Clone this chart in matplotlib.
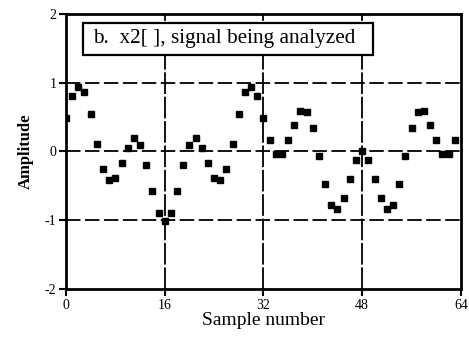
import numpy as np
import matplotlib.pyplot as plt
from matplotlib.patches import Rectangle

plt.rcParams['font.family'] = ['Liberation Serif', 'DejaVu Serif']
plt.rcParams['axes.unicode_minus'] = False

# Muestras
muestras = np.arange(64)
amplitud = [0.49, 0.80, 0.93, 0.86, 0.54, 0.11, -0.25, -0.41,
            -0.38, -0.17, 0.05, 0.19, 0.10, -0.19, -0.58, -0.90,
            -1.01, -0.90, -0.58, -0.19, 0.10, 0.19, 0.05, -0.17,
            -0.38, -0.41, -0.25, 0.11, 0.54, 0.86, 0.93, 0.80,
            0.49, 0.16, -0.04, -0.04, 0.16, 0.39, 0.59, 0.57,
            0.34, -0.06, -0.48, -0.78, -0.83, -0.67, -0.40, -0.13,
            0.00, -0.13, -0.40, -0.67, -0.83, -0.78, -0.48, -0.06,
            0.34, 0.57, 0.59, 0.39, 0.16, -0.04, -0.04, 0.16]

xticks = [0, 16, 32, 48, 64]
yticks = [-2, -1, 0, 1, 2]

fig = plt.figure(figsize=(4.69, 3.47), dpi=100)
ax = fig.add_axes([0.1407, 0.167, 0.842, 0.793])

# Rejilla
for xv in [16, 32, 48]:
    ax.axvline(xv, color='black', lw=1.3, dashes=(12, 1.5), zorder=1)
for yv in [-1, 0, 1]:
    ax.axhline(yv, color='black', lw=1.3, dashes=(8, 2.5), zorder=1)

ax.plot(muestras, amplitud, 's', color='black', markersize=4.6, zorder=3)

ax.set_xlim(0, 64)
ax.set_ylim(-2, 2)
ax.set_xticks(xticks)
ax.set_yticks(yticks)
ax.tick_params(direction='out', length=5, width=1.5, labelsize=10, pad=2)
for s in ax.spines.values():
    s.set_linewidth(2)

ax.set_xlabel('Sample number', fontsize=14, labelpad=0)
ax.set_ylabel('Amplitude', fontsize=12, fontweight='bold', labelpad=8)

# Recuadro del titulo
ax.add_patch(Rectangle((0.043, 0.851), 0.734, 0.116, transform=ax.transAxes,
                       fc='white', ec='black', lw=1.6, zorder=4))
ax.text(0.0684, 0.893, 'b.  x2[ ], signal being analyzed', transform=ax.transAxes,
        fontsize=15.3, va='baseline', ha='left', zorder=5)

fig.savefig('out.png', dpi=100)
